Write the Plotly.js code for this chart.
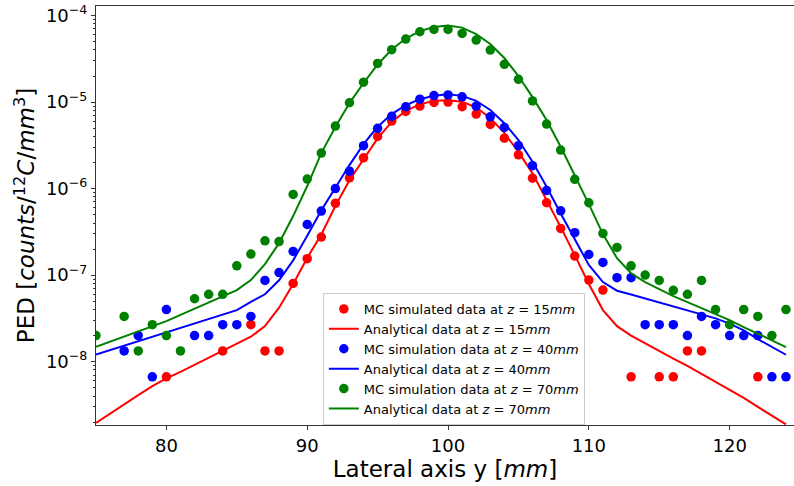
<!DOCTYPE html>
<html>
<head>
<meta charset="utf-8">
<script src="https://cdn.plot.ly/plotly-3.0.1.min.js"></script>
<style>html,body{margin:0;padding:0;background:#fff;}#chart{width:794px;height:486px;}</style>
</head>
<body>
<div id="chart"></div>
<script>
// Lateral positions (mm) for the analytical curves
const lineX = [75,76,77,78,79,80,81,82,83,84,85,86,87,88,89,90,91,92,93,94,95,96,97,98,99,100,
  101,102,103,104,105,106,107,108,109,110,111,112,113,114,115,116,117,118,119,120,121,122,123,124];

// Analytical PED, z = 15 mm
const anaZ15 = [1.96e-9,2.52e-9,3.23e-9,4.10e-9,5.21e-9,6.40e-9,7.62e-9,9.18e-9,1.11e-8,1.32e-8,
  1.58e-8,1.94e-8,2.57e-8,4.2e-8,7.9e-8,1.58e-7,2.95e-7,6.3e-7,1.25e-6,2.21e-6,
  3.8e-6,5.9e-6,7.9e-6,9.4e-6,1.035e-5,1.05e-5,1.01e-5,8.7e-6,6.5e-6,4.4e-6,
  2.66e-6,1.5e-6,7.4e-7,3.6e-7,1.7e-7,7.9e-8,3.94e-8,2.57e-8,2.0e-8,1.62e-8,
  1.32e-8,1.08e-8,8.9e-9,7.2e-9,5.9e-9,4.8e-9,3.8e-9,3.0e-9,2.35e-9,1.88e-9];

// Analytical PED, z = 40 mm
const anaZ40 = [1.21e-8,1.36e-8,1.52e-8,1.73e-8,1.94e-8,2.18e-8,2.44e-8,2.77e-8,3.08e-8,3.45e-8,
  3.94e-8,4.9e-8,6.0e-8,8.7e-8,1.48e-7,2.85e-7,5.6e-7,1.02e-6,1.87e-6,3.27e-6,
  5.18e-6,7.26e-6,9.2e-6,1.08e-5,1.18e-5,1.23e-5,1.18e-5,1.035e-5,8.1e-6,5.7e-6,
  3.64e-6,2.04e-6,1.05e-6,5.16e-7,2.59e-7,1.31e-7,8.3e-8,6.6e-8,5.98e-8,5.37e-8,
  4.88e-8,4.39e-8,3.94e-8,3.52e-8,3.16e-8,2.75e-8,2.29e-8,1.82e-8,1.48e-8,1.2e-8];

// Analytical PED, z = 70 mm
const anaZ70 = [1.48e-8,1.70e-8,1.95e-8,2.23e-8,2.56e-8,2.94e-8,3.47e-8,4.10e-8,4.83e-8,5.71e-8,
  6.71e-8,8.75e-8,1.34e-7,2.34e-7,4.81e-7,1.07e-6,2.57e-6,5.14e-6,9.73e-6,1.66e-5,
  2.72e-5,4.05e-5,5.42e-5,6.62e-5,7.36e-5,7.66e-5,7.26e-5,6.11e-5,4.69e-5,3.23e-5,
  2.0e-5,1.14e-5,6.19e-6,3.04e-6,1.43e-6,6.62e-7,2.98e-7,1.57e-7,1.05e-7,8.3e-8,
  6.89e-8,5.71e-8,4.88e-8,4.15e-8,3.54e-8,3.02e-8,2.51e-8,2.11e-8,1.77e-8,1.47e-8];

// MC simulated data, z = 15 mm
const mcZ15x = [80,84,86,87,88,89,90,91,92,93,94,95,96,97,98,99,100,101,102,103,104,105,106,107,108,109,110,111,113,115,116,117,118,122];
const mcZ15y = [6.67e-9,1.33e-8,2.67e-8,1.33e-8,1.33e-8,8.0e-8,1.55e-7,2.75e-7,6.75e-7,1.33e-6,2.27e-6,4.0e-6,6.03e-6,7.8e-6,8.99e-6,9.9e-6,1.0e-5,
  8.83e-6,7.26e-6,5.52e-6,3.83e-6,2.46e-6,1.32e-6,6.86e-7,3.46e-7,1.66e-7,8.75e-8,6.71e-8,6.67e-9,6.67e-9,6.67e-9,1.33e-8,1.33e-8,6.67e-9];

// MC simulation data, z = 40 mm
const mcZ40x = [77,78,79,80,82,83,84,85,86,87,88,89,90,91,92,93,94,95,96,97,98,99,100,101,102,103,104,105,106,107,108,109,110,111,112,113,114,115,116,117,118,119,120,121,122,123,124];
const mcZ40y = [1.33e-8,2e-8,6.67e-9,4e-8,2e-8,2e-8,2.67e-8,2.67e-8,3.33e-8,8.67e-8,1.07e-7,1.88e-7,3.85e-7,5.5e-7,1.0e-6,1.59e-6,3.13e-6,4.97e-6,6.84e-6,8.83e-6,1.08e-5,1.19e-5,1.21e-5,
  1.15e-5,8.99e-6,6.76e-6,5.09e-6,3.13e-6,1.84e-6,9.53e-7,5.54e-7,3.09e-7,1.73e-7,1.4e-7,9.33e-8,9.33e-8,2.67e-8,2.67e-8,2.67e-8,2e-8,3.33e-8,2.67e-8,2e-8,2e-8,2e-8,6.67e-9,6.67e-9];

// MC simulation data, z = 70 mm
const mcZ70x = [75,77,78,79,80,81,82,83,84,85,86,87,88,89,90,91,92,93,94,95,96,97,98,99,100,101,102,103,104,105,106,107,108,109,110,111,112,113,114,115,116,117,118,119,120,121,122,123,124];
const mcZ70y = [2e-8,3.33e-8,1.33e-8,2.67e-8,2e-8,1.33e-8,5.33e-8,6e-8,6e-8,1.28e-7,1.75e-7,2.49e-7,2.44e-7,8.57e-7,1.29e-6,2.57e-6,5.28e-6,9.82e-6,1.7e-5,2.8e-5,4.03e-5,5.35e-5,6.5e-5,6.92e-5,6.92e-5,
  6.22e-5,5.21e-5,3.99e-5,2.73e-5,1.83e-5,1.03e-5,5.57e-6,2.79e-6,1.28e-6,6.86e-7,3.03e-7,2.09e-7,1.28e-7,1.0e-7,8.67e-8,6.67e-8,6e-8,8.67e-8,4e-8,2.67e-8,4e-8,3.33e-8,2e-8,4e-8];

// Axis ticks
const yTickVals = [1e-8,1e-7,1e-6,1e-5,1e-4];
const yTickText = ['10<sup>\u22128</sup>','10<sup>\u22127</sup>','10<sup>\u22126</sup>','10<sup>\u22125</sup>','10<sup>\u22124</sup>'];
const yMinorVals = [];
[1e-9,1e-8,1e-7,1e-6,1e-5,1e-4].forEach(d => { for (let k = 2; k <= 9; k++) yMinorVals.push(k*d); });
const xTickVals = [80,90,100,110,120];

const FONT = 'DejaVu Sans, sans-serif';
const legendFont = {family: FONT, size: 13, color: '#000'};

const traces = [
  {x: mcZ15x, y: mcZ15y, mode: 'markers', type: 'scatter', name: 'MC simulated data at <i>z</i> = 15<i>mm</i>',
   marker: {color: '#ff0000', size: 9.5}},
  {x: lineX, y: anaZ15, mode: 'lines', type: 'scatter', name: 'Analytical data at <i>z</i> = 15<i>mm</i>',
   line: {color: '#ff0000', width: 2}},
  {x: mcZ40x, y: mcZ40y, mode: 'markers', type: 'scatter', name: 'MC simulation data at <i>z</i> = 40<i>mm</i>',
   marker: {color: '#0000ff', size: 9.5}},
  {x: lineX, y: anaZ40, mode: 'lines', type: 'scatter', name: 'Analytical data at <i>z</i> = 40<i>mm</i>',
   line: {color: '#0000ff', width: 2}},
  {x: mcZ70x, y: mcZ70y, mode: 'markers', type: 'scatter', name: 'MC simulation data at <i>z</i> = 70<i>mm</i>',
   marker: {color: '#008000', size: 9.5}},
  {x: lineX, y: anaZ70, mode: 'lines', type: 'scatter', name: 'Analytical data at <i>z</i> = 70<i>mm</i>',
   line: {color: '#008000', width: 2}}
];

const layout = {
  width: 794, height: 486,
  margin: {l: 96, r: 0, t: 6, b: 61},
  paper_bgcolor: '#fff', plot_bgcolor: '#fff',
  font: {family: FONT, color: '#000'},
  showlegend: true,
  legend: {x: 0.325, y: 0.315, xanchor: 'left', yanchor: 'top',
    bgcolor: 'rgba(255,255,255,0.8)', bordercolor: '#cccccc', borderwidth: 1,
    font: legendFont, tracegroupgap: 0, itemwidth: 30},
  xaxis: {
    type: 'linear', range: [75, 124.57],
    showgrid: false, zeroline: false,
    showline: true, linecolor: '#333', linewidth: 1, mirror: true,
    ticks: 'outside', ticklen: 4, tickcolor: '#333',
    tickmode: 'array', tickvals: xTickVals,
    tickfont: {family: FONT, size: 18, color: '#000'},
    title: {text: 'Lateral axis y [<i>mm</i>]', font: {family: FONT, size: 23, color: '#000'}, standoff: 6}
  },
  yaxis: {
    type: 'log', range: [Math.log10(1.85e-9), Math.log10(1.29e-4)],
    showgrid: false, zeroline: false,
    showline: true, linecolor: '#333', linewidth: 1, mirror: false,
    ticks: 'outside', ticklen: 4, tickcolor: '#333',
    tickmode: 'array', tickvals: yTickVals, ticktext: yTickText,
    tickfont: {family: FONT, size: 18, color: '#000'},
    minor: {tickmode: 'array', tickvals: yMinorVals, ticks: 'outside', ticklen: 2, tickcolor: '#333', showgrid: false},
    title: {text: 'PED [<i>counts</i>/<sup>12</sup><i>C</i>/<i>mm</i><sup>3</sup>]', font: {family: FONT, size: 23, color: '#000'}, standoff: 4}
  }
};

Plotly.newPlot('chart', traces, layout, {displayModeBar: false, staticPlot: true});
</script>
</body>
</html>
